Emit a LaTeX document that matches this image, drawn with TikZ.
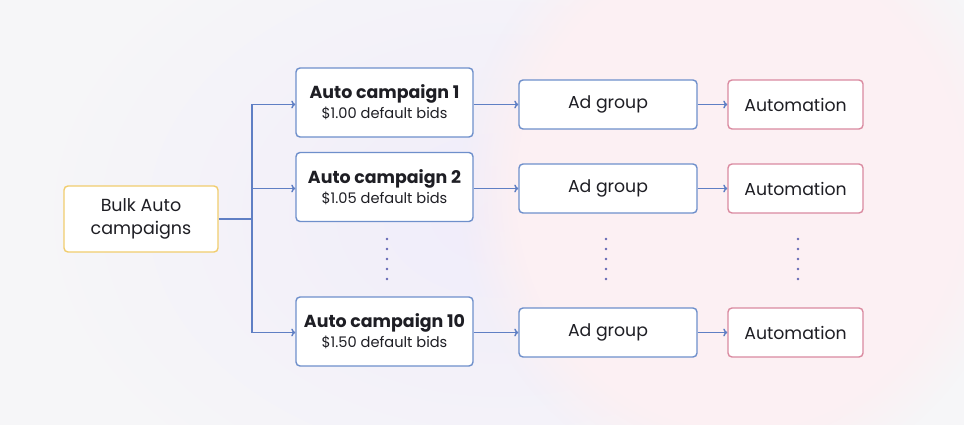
\documentclass[tikz,border=0pt]{standalone}
\usepackage{fontspec}
\setmainfont{Poppins}
\usetikzlibrary{arrows.meta,fadings}
\definecolor{bgc}{HTML}{F6F6F8}
\definecolor{blobv}{HTML}{F0ECFA}
\definecolor{blobp}{HTML}{FCF0F3}
\definecolor{bluebd}{HTML}{6E8FCB}
\definecolor{pinkbd}{HTML}{DA8AA0}
\definecolor{yellbd}{HTML}{F1CD6E}
\definecolor{linec}{HTML}{5F7FC4}
\definecolor{dotc}{HTML}{6468B4}
\definecolor{txt}{HTML}{1E1E24}
\tikzset{
  box/.style={draw, fill=white, rounded corners=4pt, line width=1.4pt, text=txt, align=center, inner sep=0pt},
  campbox/.style={box, draw=bluebd, minimum width=177pt, minimum height=69pt},
  adbox/.style={box, draw=bluebd, minimum width=178pt, minimum height=49pt, font=\fontsize{17.3}{20}\selectfont},
  autobox/.style={box, draw=pinkbd, minimum width=135pt, minimum height=49pt, font=\fontsize{17.3}{20}\selectfont},
  bulkbox/.style={box, draw=yellbd, minimum width=154pt, minimum height=66pt, font=\fontsize{17.5}{23}\selectfont},
  conn/.style={draw=linec, line width=1.4pt, -{To[length=4pt,width=8pt]}},
  plainconn/.style={draw=linec, line width=1.4pt},
  dotty/.style={fill=dotc, circle, inner sep=0pt, minimum size=2.8pt}
}
\begin{document}
\begin{tikzpicture}[x=1pt,y=-1pt]
\useasboundingbox (0,0) rectangle (964,425);
\fill[bgc] (0,0) rectangle (964,425);
\begin{scope}
\clip (0,0) rectangle (964,425);
\shade[inner color=blobv, outer color=bgc] (500,215) ellipse (470 and 330);
\fill[blobp, path fading=circle with fuzzy edge 20 percent] (740,190) ellipse (280 and 300);
\end{scope}

\node[bulkbox] (bulk) at (141,219) {Bulk Auto\\campaigns};

\node[campbox] (c1) at (384.5,102.5) {{\fontsize{17.4}{20}\selectfont\bfseries Auto campaign 1}\\[3pt]{\fontsize{14.6}{17}\selectfont \$1.00 default bids}};
\node[campbox] (c2) at (384.5,187) {{\fontsize{17.4}{20}\selectfont\bfseries Auto campaign 2}\\[3pt]{\fontsize{14.6}{17}\selectfont \$1.05 default bids}};
\node[campbox] (c3) at (384.5,331.5) {{\fontsize{17.4}{20}\selectfont\bfseries Auto campaign 10}\\[3pt]{\fontsize{14.6}{17}\selectfont \$1.50 default bids}};

\node[adbox] (a1) at (608,104.5) {Ad group};
\node[adbox] (a2) at (608,188.5) {Ad group};
\node[adbox] (a3) at (608,332.5) {Ad group};

\node[autobox] (m1) at (795.5,104.5) {Automation};
\node[autobox] (m2) at (795.5,188.5) {Automation};
\node[autobox] (m3) at (795.5,332.5) {Automation};

\coordinate (br) at (252,219);
\coordinate (bt) at (252,104.5);
\coordinate (bm) at (252,188.5);
\coordinate (bb) at (252,332.5);

\draw[plainconn] (bulk.east) -- (br);
\draw[plainconn] (bt) -- (bb);
\draw[conn] (bt) -- (bt -| c1.west);
\draw[conn] (bm) -- (bm -| c2.west);
\draw[conn] (bb) -- (bb -| c3.west);

\draw[conn] (c1.east |- a1) -- (a1.west);
\draw[conn] (c2.east |- a2) -- (a2.west);
\draw[conn] (c3.east |- a3) -- (a3.west);

\draw[conn] (a1.east) -- (m1.west);
\draw[conn] (a2.east) -- (m2.west);
\draw[conn] (a3.east) -- (m3.west);

\foreach \xx/\nm in {387/p, 606/q, 798/r}{
  \foreach \yy [count=\k] in {239,249,259,269,279}{
    \node[dotty] (\nm\k) at (\xx,\yy) {};
  }
}
\end{tikzpicture}
\end{document}
